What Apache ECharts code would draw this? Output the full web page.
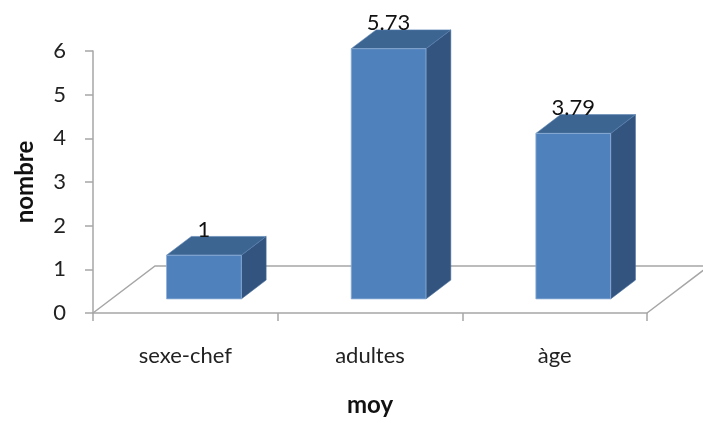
<!DOCTYPE html>
<html>
<head>
<meta charset="utf-8">
<script src="https://cdn.jsdelivr.net/npm/echarts@6/dist/echarts.min.js"></script>
<style>
html,body{margin:0;padding:0;background:#fff;}
#chart{width:703px;height:423px;}
</style>
</head>
<body>
<div id="chart"></div>
<script>
var categories = ['sexe-chef', 'adultes', 'àge'];
var values = [1, 5.73, 3.79];
var yTicks = [0, 1, 2, 3, 4, 5, 6];
var xTitle = 'moy';
var yTitle = 'nombre';

var FONT = 'Lato';
var DEPTH = [62, -47];
var GRAY = '#a6a6a6';

var chart = echarts.init(document.getElementById('chart'));

function renderFloor(params, api) {
  var cs = params.coordSys;
  var x0 = cs.x, x1 = cs.x + cs.width, y0 = cs.y + cs.height;
  var style = { stroke: GRAY, lineWidth: 1.5, fill: null };
  return {
    type: 'group',
    children: [
      { type: 'polyline', shape: { points: [[x0, y0], [x0 + DEPTH[0], y0 + DEPTH[1]], [x1 + DEPTH[0], y0 + DEPTH[1]], [x1, y0]] }, style: style }
    ]
  };
}

function renderBar(params, api) {
  var idx = api.value(0);
  var val = api.value(1);
  var base = api.coord([idx, 0]);
  var band = api.size([1, 0])[0];
  var h = api.size([0, val])[1];
  var hw = band * 0.2025;
  var fo = [DEPTH[0] * 0.3, DEPTH[1] * 0.3];
  var bd = [DEPTH[0] * 0.4, DEPTH[1] * 0.4];
  var xl = base[0] - hw + fo[0], xr = base[0] + hw + fo[0];
  var yb = base[1] + fo[1], yt = yb - h;
  var front = [[xl, yb], [xr, yb], [xr, yt], [xl, yt]];
  var top = [[xl, yt], [xr, yt], [xr + bd[0], yt + bd[1]], [xl + bd[0], yt + bd[1]]];
  var side = [[xr, yt], [xr + bd[0], yt + bd[1]], [xr + bd[0], yb + bd[1]], [xr, yb]];
  return {
    type: 'group',
    children: [
      { type: 'polygon', shape: { points: side }, style: { fill: '#32547f', stroke: '#4a6f9c', lineWidth: 0.6 } },
      { type: 'polygon', shape: { points: top }, style: { fill: '#3c6592', stroke: '#5a83b3', lineWidth: 0.6 } },
      { type: 'polygon', shape: { points: front }, style: { fill: '#4f81bd', stroke: '#8fb0d8', lineWidth: 0.8 } },
      { type: 'text', style: { text: String(val), x: base[0] + fo[0], y: yt + bd[1] - 7, align: 'center', verticalAlign: 'middle', fontFamily: FONT, fontSize: 22, fill: '#111' } }
    ]
  };
}

chart.setOption({
  animation: false,
  backgroundColor: '#fff',
  grid: { left: 93, right: 56, top: 51, bottom: 110, containLabel: false, outerBoundsMode: 'none' },
  xAxis: {
    type: 'category',
    data: categories,
    boundaryGap: true,
    name: xTitle,
    nameLocation: 'middle',
    nameGap: 80,
    nameTextStyle: { fontFamily: FONT, fontSize: 24, fontWeight: 'bold', color: '#111' },
    axisLine: { lineStyle: { color: GRAY, width: 1.5 } },
    axisTick: { show: true, length: 8, lineStyle: { color: GRAY, width: 1.5 } },
    axisLabel: { margin: 32, fontFamily: FONT, fontSize: 22, color: '#222' },
    splitLine: { show: false }
  },
  yAxis: {
    type: 'value',
    min: yTicks[0],
    max: yTicks[yTicks.length - 1],
    interval: 1,
    name: yTitle,
    nameLocation: 'middle',
    nameGap: 56,
    nameTextStyle: { fontFamily: FONT, fontSize: 24, fontWeight: 'bold', color: '#111' },
    axisLine: { show: true, lineStyle: { color: GRAY, width: 1.5 } },
    axisTick: { show: true, length: 8, lineStyle: { color: GRAY, width: 1.5 } },
    axisLabel: { margin: 27, fontFamily: FONT, fontSize: 22, color: '#222' },
    splitLine: { show: false }
  },
  series: [
    { type: 'custom', z: 1, renderItem: renderFloor, data: [[0, 0]], silent: true, clip: false },
    { type: 'custom', z: 2, renderItem: renderBar, data: categories.map(function (c, i) { return [i, values[i]]; }), clip: false }
  ]
});
</script>
</body>
</html>
